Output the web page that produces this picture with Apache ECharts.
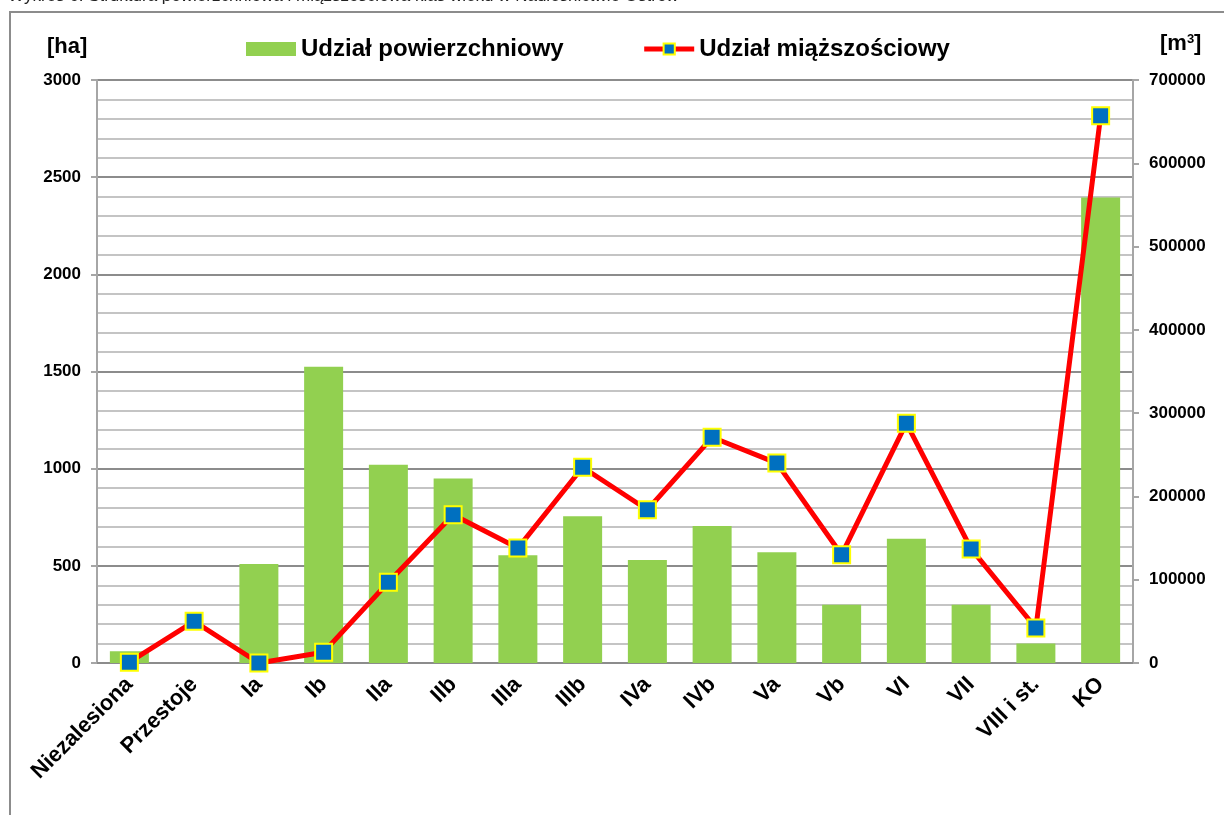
<!DOCTYPE html>
<html>
<head>
<meta charset="utf-8">
<script src="https://cdn.jsdelivr.net/npm/echarts@6/dist/echarts.min.js"></script>
<style>
    html, body { margin: 0; padding: 0; background: #fff; }
    #main { width: 1224px; height: 815px; }
</style>
</head>
<body>
<div id="main"></div>
<script>
// klasy wieku
var categories = ['Niezalesiona', 'Przestoje', 'Ia', 'Ib', 'IIa', 'IIb', 'IIIa', 'IIIb',
    'IVa', 'IVb', 'Va', 'Vb', 'VI', 'VII', 'VIII i st.', 'KO'];
// udzial powierzchniowy [ha]
var areaValues = [60, 0, 510, 1525, 1020, 950, 555, 755, 530, 705, 570, 300, 640, 300, 100, 2395];
// udzial miazszosciowy [m3]
var volumeValues = [1000, 50000, 0, 13000, 97000, 178000, 138000, 235000, 184000, 271000,
    240000, 130000, 288000, 137000, 42000, 657000];

var FONT = '"Liberation Sans", Arial, sans-serif';

function plainNumber (v) {
    return String(v);
}

function buildChart (target) {
    var chart = echarts.init(document.getElementById(target));
    var option = {
        animation: false,
        textStyle: { fontFamily: FONT },
        graphic: [
            {
                type: 'text',
                left: 8,
                top: -12,
                style: {
                    text: 'Wykres 6. Struktura powierzchniowa i miąższościowa klas wieku w Nadleśnictwie Ostrów',
                    font: '17px ' + FONT,
                    fill: '#222'
                }
            },
            {
                type: 'rect',
                shape: { x: 10, y: 12, width: 1240, height: 830 },
                style: { fill: 'none', stroke: '#8c8c8c', lineWidth: 2 }
            },
            {
                type: 'text',
                left: 47,
                top: 36,
                style: { text: '[ha]', font: 'bold 22px ' + FONT, fill: '#000' }
            },
            {
                type: 'text',
                left: 1160,
                top: 33,
                style: {
                    text: '[m{s|3}]',
                    font: 'bold 22px ' + FONT,
                    fill: '#000',
                    rich: { s: { fontSize: 13, fontWeight: 'bold', verticalAlign: 'top', padding: [0, 0, 8, 0] } }
                }
            }
        ],
        legend: {
            top: 32,
            left: 241,
            itemGap: 78,
            itemWidth: 50,
            itemHeight: 14,
            textStyle: { fontSize: 24, fontWeight: 'bold', color: '#000', fontFamily: FONT },
            data: [
                { name: 'Udział powierzchniowy', icon: 'rect' },
                { name: 'Udział miąższościowy', lineStyle: { width: 5 } }
            ]
        },
        grid: {
            left: 97,
            right: 91,
            top: 80,
            bottom: 152
        },
        xAxis: {
            type: 'category',
            data: categories,
            axisLine: { lineStyle: { color: '#8c8c8c', width: 2 } },
            axisTick: { show: false },
            axisLabel: {
                interval: 0,
                rotate: 45,
                fontSize: 22,
                fontWeight: 'bold',
                color: '#000',
                margin: 18
            }
        },
        yAxis: [
            {
                type: 'value',
                min: 0,
                max: 3000,
                interval: 500,
                axisLine: { show: true, lineStyle: { color: '#a6a6a6', width: 2 } },
                axisTick: { show: true, length: 6, lineStyle: { color: '#a6a6a6', width: 2 } },
                axisLabel: { fontSize: 17, fontWeight: 'bold', color: '#000', margin: 16, formatter: plainNumber },
                splitLine: { lineStyle: { color: '#8c8c8c', width: 2 } },
                minorTick: { show: false, splitNumber: 5 },
                minorSplitLine: { show: true, lineStyle: { color: '#c4c4c4', width: 2 } }
            },
            {
                type: 'value',
                min: 0,
                max: 700000,
                interval: 100000,
                axisLine: { show: true, lineStyle: { color: '#a6a6a6', width: 2 } },
                axisTick: { show: true, length: 6, lineStyle: { color: '#a6a6a6', width: 2 } },
                axisLabel: { fontSize: 17, fontWeight: 'bold', color: '#000', margin: 16, formatter: plainNumber },
                splitLine: { show: false }
            }
        ],
        series: [
            {
                name: 'Udział powierzchniowy',
                type: 'bar',
                yAxisIndex: 0,
                data: areaValues,
                barWidth: 39,
                itemStyle: { color: '#92d050' }
            },
            {
                name: 'Udział miąższościowy',
                type: 'line',
                yAxisIndex: 1,
                data: volumeValues,
                symbol: 'rect',
                symbolSize: 17,
                lineStyle: { color: '#ff0000', width: 5 },
                itemStyle: { color: '#0070c0', borderColor: '#ffff00', borderWidth: 2 },
                z: 5
            }
        ]
    };
    chart.setOption(option);
    return chart;
}

buildChart('main');
</script>
</body>
</html>
